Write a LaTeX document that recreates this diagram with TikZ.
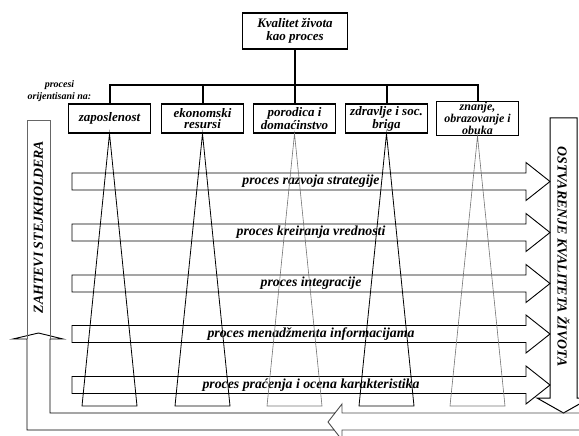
\documentclass[tikz,border=0pt]{standalone}
\usepackage{fontspec}
\setmainfont{Liberation Serif}
\usetikzlibrary{calc}
\begin{document}
\begin{tikzpicture}[x=1pt,y=-1pt,
  bi/.style={font=\bfseries\itshape},
  topbox/.style={draw=black,line width=1.4pt,fill=white,minimum width=105pt,minimum height=36pt,
    inner sep=1pt,align=center,bi,font=\bfseries\itshape\fontsize{13}{13}\selectfont},
  procbox/.style={draw=black,line width=1.3pt,fill=white,minimum width=82pt,minimum height=29pt,
    inner sep=1pt,align=center,font=\bfseries\itshape\fontsize{13}{11.5}\selectfont},
  bus/.style={line width=2pt,black},
  wedge/.style={line width=0.8pt},
  band/.style={line width=0.9pt,black},
  bandlabel/.style={font=\bfseries\itshape\fontsize{13.8}{14}\selectfont,inner sep=0pt},
  sidelabel/.style={font=\bfseries\itshape\fontsize{13.8}{14}\selectfont,inner sep=0pt},
  flow/.style={line width=0.9pt,black!70}]
\useasboundingbox (0,0) rectangle (579,436);
\clip (0,0) rectangle (579,436);

% top of the hierarchy
\node[topbox] (top) at (295,31) {Kvalitet života\\kao proces};

% process boxes
\node[procbox] (b1) at (109.5,118.5) {zaposlenost};
\node[procbox] (b2) at (202.5,118.5) {ekonomski\\resursi};
\node[procbox] (b3) at (294.5,118.5) {porodica i\\domaćinstvo};
\node[procbox] (b4) at (386.5,118.5) {zdravlje i soc.\\briga};
\node[procbox,font=\bfseries\itshape\fontsize{12}{8.6}\selectfont] (b5) at (477.5,118.5) {znanje,\\obrazovanje i\\obuka};

\node[align=center,inner sep=0pt,font=\bfseries\itshape\fontsize{10}{12}\selectfont] (orient) at (59.5,91) {procesi\\orijentisani na:};

% connecting bus
\coordinate (bus) at (295,85);
\draw[bus] (top.south) -- (bus);
\draw[bus] (b1.north) |- (b5.north |- bus) -- (b5.north);
\foreach \b in {b2,b3,b4} \draw[bus] (\b.north) -- (\b.north |- bus);

% horizontal process arrows
\foreach \c/\t [count=\i] in {181.5/proces razvoja strategije,
                              232.5/proces kreiranja vrednosti,
                              283.5/proces integracije,
                              334/proces menadžmenta informacijama,
                              385/proces praćenja i ocena karakteristika}{
  \draw[band] (72,\c-8.5) -- (526,\c-8.5) -- (526,\c-19) -- (550,\c) -- (526,\c+19)
              -- (526,\c+8.5) -- (72,\c+8.5) -- cycle;
  \node[bandlabel] (lbl\i) at (311,\c) {\t};
}

% wedges below each box
\coordinate (base) at (0,406);
\foreach \b/\col/\w in {b1/black/0.8pt,b2/black/0.8pt,b3/black!55/0.6pt,b4/black/0.8pt,b5/black!55/0.6pt}{
  \draw[wedge,draw=\col,line width=\w] (\b.south) -- ($(\b.south |- base)+(-27.5,0)$)
        -- ($(\b.south |- base)+(27.5,0)$) -- cycle;
}

% right downward arrow
\draw[line width=1pt,black] (550,118) -- (577,118) -- (577,398) -- (590,398) -- (563.5,413)
      -- (537,398) -- (550,398) -- cycle;
\node[sidelabel,rotate=-90] (goal) at (563.5,256.5) {OSTVARENJE KVALITETA ŽIVOTA};

% returning arrow along the bottom and up the left side
\draw[flow] (592,413) -- (342,413) -- (342,404) -- (328,422) -- (342,440) -- (342,430) -- (592,430);
\draw[flow,black] (335,413) -- (50,413) -- (50,339) -- (63,339) -- (38.5,333) -- (13,339)
      -- (27,339) -- (27,430) -- (334,430);
\draw[line width=0.9pt,black!60] (27,339) -- (27,120) -- (50,120) -- (50,339);
\node[sidelabel,rotate=90] (req) at (38.5,227) {ZAHTEVI STEJKHOLDERA};
\end{tikzpicture}
\end{document}
